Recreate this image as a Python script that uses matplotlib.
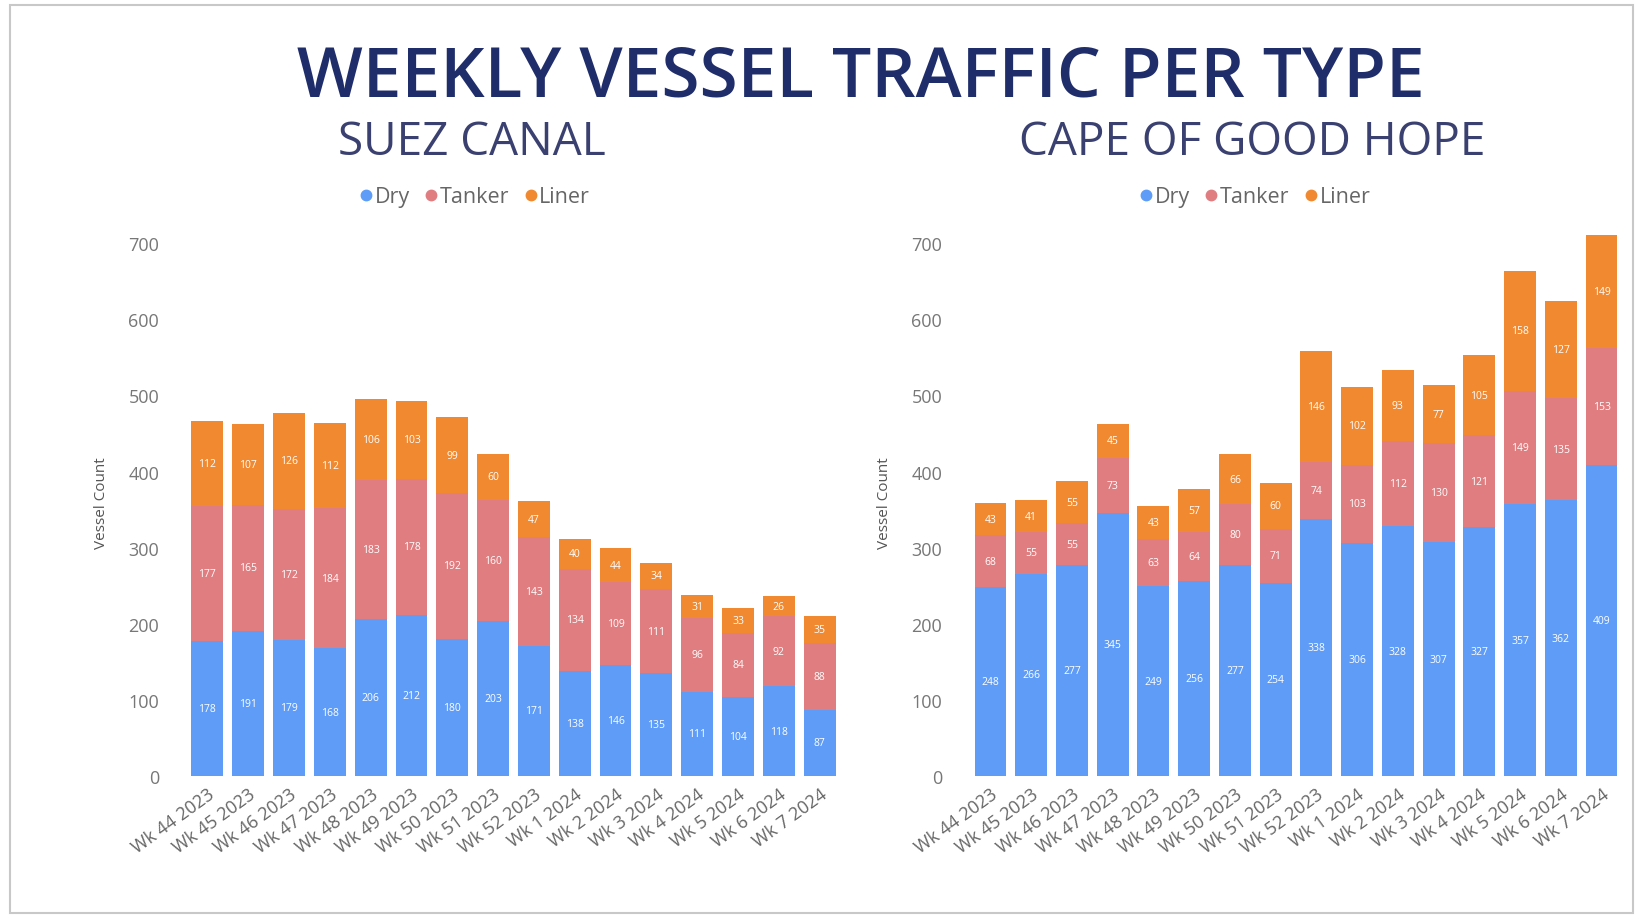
import matplotlib.pyplot as plt
from matplotlib.lines import Line2D
from matplotlib.patches import Rectangle

plt.rcParams["font.family"] = ["Open Sans", "DejaVu Sans"]

# Semaines (axe x commun aux deux graphiques)
semaines = ["Wk 44 2023", "Wk 45 2023", "Wk 46 2023", "Wk 47 2023", "Wk 48 2023",
            "Wk 49 2023", "Wk 50 2023", "Wk 51 2023", "Wk 52 2023", "Wk 1 2024",
            "Wk 2 2024", "Wk 3 2024", "Wk 4 2024", "Wk 5 2024", "Wk 6 2024",
            "Wk 7 2024"]

# Canal de Suez
suez_dry = [178, 191, 179, 168, 206, 212, 180, 203, 171, 138, 146, 135, 111, 104, 118, 87]
suez_tanker = [177, 165, 172, 184, 183, 178, 192, 160, 143, 134, 109, 111, 96, 84, 92, 88]
suez_liner = [112, 107, 126, 112, 106, 103, 99, 60, 47, 40, 44, 34, 31, 33, 26, 35]

# Cap de Bonne-Espérance
cap_dry = [248, 266, 277, 345, 249, 256, 277, 254, 338, 306, 328, 307, 327, 357, 362, 409]
cap_tanker = [68, 55, 55, 73, 63, 64, 80, 71, 74, 103, 112, 130, 121, 149, 135, 153]
cap_liner = [43, 41, 55, 45, 43, 57, 66, 60, 146, 102, 93, 77, 105, 158, 127, 149]

couleurs = {"Dry": "#5e9cf7", "Tanker": "#e07d80", "Liner": "#f0892f"}

fig = plt.figure(figsize=(16.43, 9.2), dpi=100)

# cadre gris autour de l'image
fig.patches.append(Rectangle((0.006, 0.006), 0.988, 0.988, transform=fig.transFigure,
                             fill=False, edgecolor="#c8c8c8", linewidth=1.5))

fig.text(0.524, 0.914, "WEEKLY VESSEL TRAFFIC PER TYPE", ha="center", va="center",
         fontsize=50, fontweight="semibold", color="#1f2d6b")


def desenha(ax, dry, tanker, liner, titulo, cx):
    x = list(range(len(semaines)))
    base2 = dry
    base3 = [d + t for d, t in zip(dry, tanker)]
    b1 = ax.bar(x, dry, width=0.78, color=couleurs["Dry"])
    b2 = ax.bar(x, tanker, width=0.78, bottom=base2, color=couleurs["Tanker"])
    b3 = ax.bar(x, liner, width=0.78, bottom=base3, color=couleurs["Liner"])
    for barras, vals in ((b1, dry), (b2, tanker), (b3, liner)):
        ax.bar_label(barras, labels=[str(v) for v in vals], label_type="center",
                     color="white", fontsize=7.5)
    ax.set_xlim(-0.5, len(semaines) - 0.5)
    ax.set_ylim(0, 720)
    ax.set_yticks(range(0, 701, 100))
    ax.set_xticks(x)
    ax.set_xticklabels(semaines, rotation=36, ha="right", rotation_mode="anchor",
                       fontsize=13, color="#666666")
    ax.tick_params(axis="y", labelsize=13, colors="#777777", length=0, pad=20)
    ax.tick_params(axis="x", length=0, pad=6)
    for s in ax.spines.values():
        s.set_visible(False)
    ax.set_ylabel("Vessel Count", fontsize=11, color="#555555", labelpad=14)

    fig.text(cx, 0.845, titulo, ha="center", va="center", fontsize=33,
             color="#3a4170")
    handles = [Line2D([], [], marker="o", linestyle="", markersize=7.5,
                      color=couleurs[k]) for k in couleurs]
    fig.legend(handles, list(couleurs), loc="center", bbox_to_anchor=(cx, 0.785),
               ncol=3, frameon=False, fontsize=15.5, handletextpad=-0.2,
               columnspacing=0.4, labelcolor="#666666", handlelength=1.2)


ax1 = fig.add_axes([0.1138, 0.1554, 0.3975, 0.5958])
desenha(ax1, suez_dry, suez_tanker, suez_liner, "SUEZ CANAL", 0.287)

ax2 = fig.add_axes([0.5904, 0.1554, 0.3968, 0.5958])
desenha(ax2, cap_dry, cap_tanker, cap_liner, "CAPE OF GOOD HOPE", 0.762)

fig.savefig("out.png", dpi=100, facecolor="white")
